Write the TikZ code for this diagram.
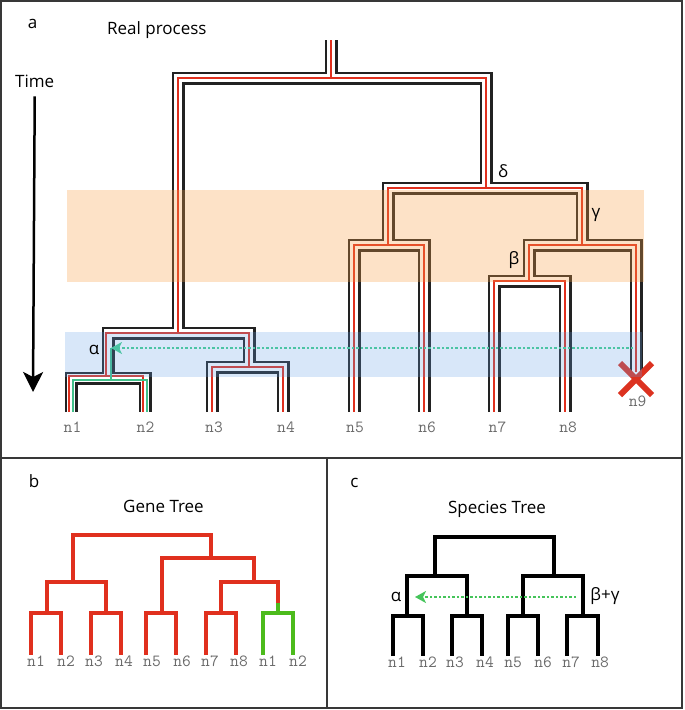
\documentclass[tikz,border=0pt]{standalone}
\usepackage{fontspec}
\setmainfont{Open Sans}
\usetikzlibrary{arrows.meta,shapes.misc}
\definecolor{tubeblack}{HTML}{222222}
\definecolor{genered}{HTML}{E0301E}
\definecolor{introgreen}{HTML}{40C08A}
\definecolor{flowteal}{HTML}{4CC4A4}
\definecolor{genegreen}{HTML}{4CBB1C}
\definecolor{flowgreen}{HTML}{45C45A}
\definecolor{xred}{HTML}{DC3220}
\definecolor{labgray}{HTML}{6A6A6A}
\definecolor{framegray}{HTML}{383838}
\definecolor{bandorange}{RGB}{250,160,70}
\definecolor{bandblue}{RGB}{100,160,230}
\begin{document}
\begin{tikzpicture}[x=1pt,y=-1pt,
  txt/.style={inner sep=0pt,font=\fontsize{17}{20}\selectfont},
  leaflab/.style={inner sep=0pt,anchor=base,text=labgray,font=\ttfamily\fontsize{17}{20}\selectfont},
  redgene/.style={line width=2pt,draw=genered},
  greengene/.style={line width=2pt,draw=introgreen},
  genetree/.style={line width=4pt,draw=genered},
  sptree/.style={line width=4.5pt,draw=black},
  flow/.style={line width=2.5pt,dotted,-{Stealth[length=11pt,width=12pt,inset=3pt]}},
  frame/.style={line width=2pt,draw=framegray}]

\useasboundingbox (0,0) rectangle (685,710);

% panel a: species tree as tubes
\coordinate (rtop) at (331,40);
\coordinate (ra) at (331,78);
\coordinate (la) at (178,333);
\coordinate (aa) at (108,378);
\coordinate (ba) at (249,367);
\coordinate (da) at (486,188);
\coordinate (ca) at (388,245);
\coordinate (ga) at (582,245);
\coordinate (bt) at (529,281);
\coordinate (n1a) at (71,412);
\coordinate (n2a) at (145,412);
\coordinate (n3a) at (212,412);
\coordinate (n4a) at (283,412);
\coordinate (n5a) at (354,412);
\coordinate (n6a) at (424,412);
\coordinate (n7a) at (494,412);
\coordinate (n8a) at (565,412);
\coordinate (n9a) at (636,372);

\foreach \w/\c in {13pt/tubeblack,8pt/white}
  \draw[line width=\w,draw=\c]
    (rtop) -- (ra)
    (la) -- (la |- ra) -- (da |- ra) -- (da)
    (aa) -- (aa |- la) -- (ba |- la) -- (ba)
    (n1a) -- (n1a |- aa) -- (n2a |- aa) -- (n2a)
    (n3a) -- (n3a |- ba) -- (n4a |- ba) -- (n4a)
    (ca) -- (ca |- da) -- (ga |- da) -- (ga)
    (n5a) -- (n5a |- ca) -- (n6a |- ca) -- (n6a)
    (bt) -- (bt |- ga) -- (n9a |- ga) -- (n9a)
    (n7a) -- (n7a |- bt) -- (n8a |- bt) -- (n8a);

% gene lineages inside the tubes
\coordinate (ar) at (106,376);
\coordinate (n1r) at (69,412);
\coordinate (n2r) at (143,412);
\coordinate (ag) at (111,348);
\coordinate (agb) at (111,380);
\coordinate (n1g) at (73,412);
\coordinate (n2g) at (147,412);
\draw[redgene]
    (rtop) -- (ra)
    (la) -- (la |- ra) -- (da |- ra) -- (da)
    (ar) -- (ar |- la) -- (ba |- la) -- (ba)
    (n1r) -- (n1r |- ar) -- (n2r |- ar) -- (n2r)
    (n3a) -- (n3a |- ba) -- (n4a |- ba) -- (n4a)
    (ca) -- (ca |- da) -- (ga |- da) -- (ga)
    (n5a) -- (n5a |- ca) -- (n6a |- ca) -- (n6a)
    (bt) -- (bt |- ga) -- (n9a |- ga) -- (n9a)
    (n7a) -- (n7a |- bt) -- (n8a |- bt) -- (n8a);
\draw[greengene] (ag) -- (agb)
    (n1g) -- (n1g |- agb) -- (n2g |- agb) -- (n2g);

\node[cross out,draw=xred,line width=6pt,minimum size=26pt,inner sep=0pt] (xx) at (636,379) {};

\fill[bandorange,fill opacity=0.3] (67,190) rectangle (644,282);
\fill[bandblue,fill opacity=0.25] (65,332) rectangle (642,377);

\coordinate (fs) at (633,348);
\draw[flow,flowteal] (fs) -- (ag);

\node[txt,anchor=base] (pa) at (32.5,28) {a};
\node[txt,anchor=base west] (title) at (107,34) {Real process};
\node[txt,anchor=base west] (time) at (15,87) {Time};
\coordinate (tend) at (33,392);
\draw[line width=2.5pt,-{Stealth[length=20pt,width=20pt,inset=5pt]}] ([yshift=-9pt]time.south) -- (tend);
\node[txt] (delta) at (503,171) {δ};
\node[txt] (gamma) at (596,215) {γ};
\node[txt] (beta) at (514,260) {β};
\node[txt] (alpha) at (94,350) {α};
\foreach \t/\x [count=\i] in {n1/72.5,n2/145.5,n3/214,n4/286,n5/355,n6/427,n7/497.5,n8/568}
  \node[leaflab] (lab\i) at (\x,432) {\t};
\node[leaflab] (lab9) at (637.5,406) {n9};

% panel b: gene tree
\node[txt,anchor=base] (pb) at (34,487) {b};
\node[txt,anchor=base] (gtitle) at (163.5,512) {Gene Tree};
\coordinate (groot) at (142,535);
\coordinate (gL) at (73,582);
\coordinate (gR) at (211,558);
\coordinate (gA) at (47,613);
\coordinate (gB) at (106,613);
\coordinate (gC) at (162,613);
\coordinate (gD) at (254,582);
\coordinate (gE) at (221,613);
\coordinate (gF) at (278,613);
\coordinate (gFm) at (278,603);
\foreach \x [count=\i] in {31,61,91,121,146,176,206,236,263,293}
  \coordinate (b\i) at (\x,655);
\draw[genetree]
    (gL) -- (gL |- groot) -- (gR |- groot) -- (gR)
    (gA) -- (gA |- gL) -- (gB |- gL) -- (gB)
    (b1) -- (b1 |- gA) -- (b2 |- gA) -- (b2)
    (b3) -- (b3 |- gB) -- (b4 |- gB) -- (b4)
    (gC) -- (gC |- gR) -- (gD |- gR) -- (gD)
    (b5) -- (b5 |- gC) -- (b6 |- gC) -- (b6)
    (gE) -- (gE |- gD) -- (gFm |- gD) -- (gFm)
    (b7) -- (b7 |- gE) -- (b8 |- gE) -- (b8);
\draw[genetree,draw=genegreen] (gFm) -- (gF)
    (b9) -- (b9 |- gF) -- (b10 |- gF) -- (b10);
\foreach \t/\x [count=\i] in {n1/36,n2/66,n3/94,n4/124,n5/152,n6/182,n7/210,n8/239,n1/268,n2/298}
  \node[leaflab] (glab\i) at (\x,666) {\t};

% panel c: species tree
\node[txt,anchor=base] (pc) at (354.5,487) {c};
\node[txt,anchor=base] (stitle) at (497,513) {Species Tree};
\coordinate (sroot) at (494,537);
\coordinate (sL) at (435,576);
\coordinate (sR) at (554,576);
\coordinate (sA) at (407,616);
\coordinate (sB) at (467,616);
\coordinate (sC) at (523,616);
\coordinate (sD) at (583,616);
\foreach \x [count=\i] in {393,423,452,482,508,538,567,598}
  \coordinate (s\i) at (\x,656);
\draw[sptree]
    (sL) -- (sL |- sroot) -- (sR |- sroot) -- (sR)
    (sA) -- (sA |- sL) -- (sB |- sL) -- (sB)
    (sC) -- (sC |- sR) -- (sD |- sR) -- (sD)
    (s1) -- (s1 |- sA) -- (s2 |- sA) -- (s2)
    (s3) -- (s3 |- sB) -- (s4 |- sB) -- (s4)
    (s5) -- (s5 |- sC) -- (s6 |- sC) -- (s6)
    (s7) -- (s7 |- sD) -- (s8 |- sD) -- (s8);
\coordinate (cfs) at (576,597);
\coordinate (cft) at (415,597);
\draw[flow,flowgreen] (cfs) -- (cft);
\node[txt] (salpha) at (396,597) {α};
\node[txt] (sbg) at (605,596) {β+γ};
\foreach \t/\x [count=\i] in {n1/397,n2/428,n3/455,n4/485,n5/513,n6/543,n7/571,n8/600}
  \node[leaflab] (slab\i) at (\x,667) {\t};

% frames
\draw[frame] (1,1) rectangle (682,708);
\draw[frame] (1,458) -- (682,458) (327,458) -- (327,708);
\end{tikzpicture}
\end{document}
